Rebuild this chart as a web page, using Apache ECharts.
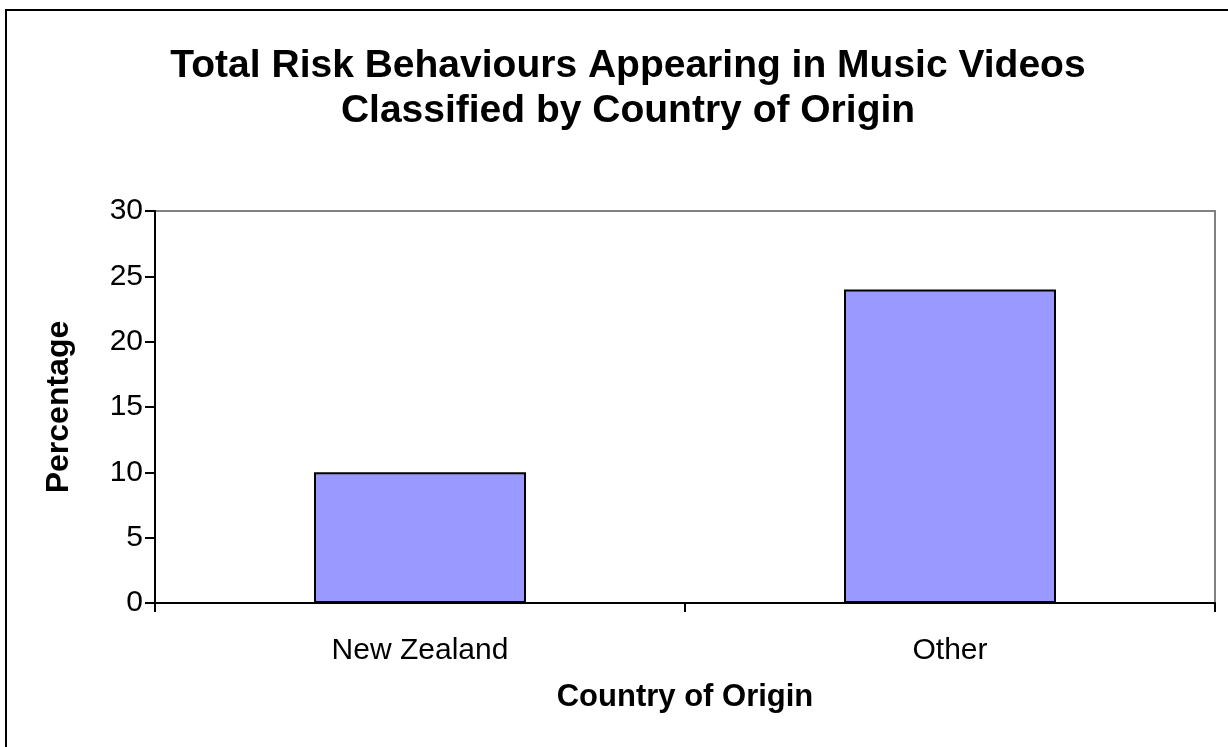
<!DOCTYPE html>
<html>
<head>
<meta charset="utf-8">
<script src="https://cdn.jsdelivr.net/npm/echarts@6/dist/echarts.min.js"></script>
<style>
  html, body { margin: 0; padding: 0; background: #fff; }
  #chart { width: 1228px; height: 747px; }
</style>
</head>
<body>
<div id="chart"></div>
<script>
// values
const categories = ["New Zealand", "Other"];
const percentages = [10, 24];
const yTicks = { min: 0, max: 30, interval: 5 };

const titleLines = [
  "Total Risk Behaviours Appearing in Music Videos",
  "Classified by Country of Origin"
];

const font = "Liberation Sans, Arial, sans-serif";

const chart = echarts.init(document.getElementById("chart"));

chart.setOption({
  backgroundColor: "#fff",
  animation: false,
  title: {
    text: titleLines.join("\n"),
    left: 623,
    textAlign: "center",
    top: 39,
    textStyle: {
      fontFamily: font,
      fontSize: 39,
      fontWeight: "bold",
      color: "#000",
      lineHeight: 45
    }
  },
  grid: {
    left: 155,
    right: 13,
    top: 211,
    bottom: 144,
    show: true,
    borderColor: "#808080",
    borderWidth: 2,
    backgroundColor: "transparent"
  },
  xAxis: {
    type: "category",
    data: categories,
    name: "Country of Origin",
    nameLocation: "middle",
    nameGap: 79,
    nameTextStyle: { fontFamily: font, fontSize: 31, fontWeight: "bold", color: "#000" },
    axisLine: { lineStyle: { color: "#000", width: 2 } },
    axisTick: { show: true, length: 9, lineStyle: { color: "#000", width: 2 } },
    axisLabel: { fontFamily: font, fontSize: 30, color: "#000", margin: 33 },
    splitLine: { show: false }
  },
  yAxis: {
    type: "value",
    min: yTicks.min,
    max: yTicks.max,
    interval: yTicks.interval,
    name: "Percentage",
    nameLocation: "middle",
    nameGap: 80,
    nameTextStyle: { fontFamily: font, fontSize: 32, fontWeight: "bold", color: "#000" },
    axisLine: { show: true, lineStyle: { color: "#000", width: 2 } },
    axisTick: { show: true, length: 10, lineStyle: { color: "#000", width: 2 } },
    axisLabel: { fontFamily: font, fontSize: 30, color: "#000", margin: 12 },
    splitLine: { show: false }
  },
  series: [{
    type: "bar",
    data: percentages,
    barWidth: "40%",
    itemStyle: { color: "#9999FF", borderColor: "#000", borderWidth: 2 }
  }],
  graphic: [
    { type: "line", shape: { x1: 6, y1: 9, x2: 6, y2: 747 }, style: { stroke: "#000", lineWidth: 2 } },
    { type: "line", shape: { x1: 5, y1: 10, x2: 1228, y2: 10 }, style: { stroke: "#000", lineWidth: 2 } }
  ]
});
</script>
</body>
</html>
